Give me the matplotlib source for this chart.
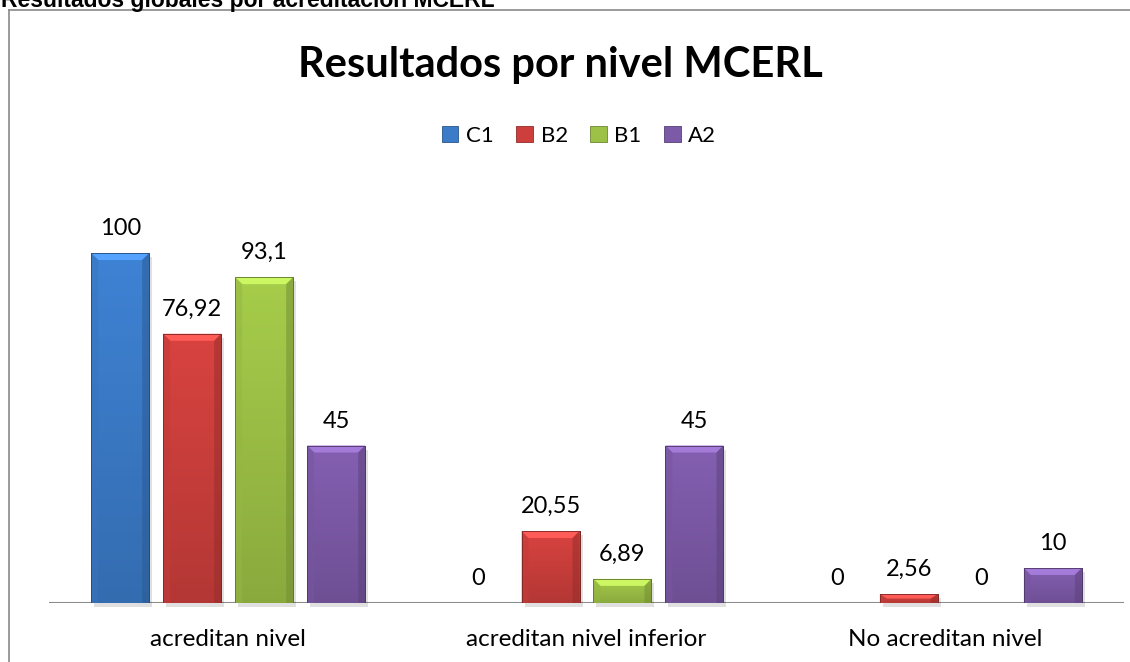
import numpy as np
import matplotlib
matplotlib.use("Agg")
import matplotlib.pyplot as plt
from matplotlib.patches import Polygon, Rectangle
from matplotlib.lines import Line2D
import matplotlib.colors as mcolors

categories = ["acreditan nivel", "acreditan nivel inferior", "No acreditan nivel"]
series = ["C1", "B2", "B1", "A2"]
values_C1 = [100, 0, 0]
values_B2 = [76.92, 20.55, 2.56]
values_B1 = [93.1, 6.89, 0]
values_A2 = [45, 45, 10]
labels_C1 = ["100", "0", "0"]
labels_B2 = ["76,92", "20,55", "2,56"]
labels_B1 = ["93,1", "6,89", "0"]
labels_A2 = ["45", "45", "10"]
colors = ["#3B7BC8", "#CC3F3C", "#9DC146", "#7D5AA8"]

W, H = 1130, 662
fig = plt.figure(figsize=(W / 100, H / 100), dpi=100)
fig.patch.set_facecolor("white")

FONT = ["Lato", "DejaVu Sans"]

# outer frame of the chart object
fig.add_artist(Line2D([8.5 / W, 8.5 / W], [0, 1 - 9.5 / H], color="#8a8a8a", lw=1.2))
fig.add_artist(Line2D([8.5 / W, 1], [1 - 9.5 / H, 1 - 9.5 / H], color="#8a8a8a", lw=1.2))

# cut-off heading above chart
fig.text(1 / W, 1 - 7 / H, "Resultados globales por acreditación MCERL",
         fontsize=16.5, fontweight="bold", family=["Liberation Sans", "DejaVu Sans"],
         ha="left", va="baseline", color="black")

# axes placement
left, right = 49, 1124
bottom_px, top_px = 603, 200
ax = fig.add_axes([left / W, 1 - bottom_px / H, (right - left) / W, (bottom_px - top_px) / H])
ymax = (bottom_px - top_px) / 3.5
ax.set_ylim(0, ymax)
ax.set_xlim(-0.5, 2.5)
ax.axis("off")
ax.axhline(0, color="#8c8c8c", lw=1.5, zorder=1)

unit = (right - left) / 3.0
step = 72 / unit
bw = 58 / unit
x = np.arange(len(categories))

all_vals = [values_C1, values_B2, values_B1, values_A2]
all_labs = [labels_C1, labels_B2, labels_B1, labels_A2]

bev_x = 7 / unit
bev_y = 7 / 3.5

for i, (vals, labs, col) in enumerate(zip(all_vals, all_labs, colors)):
    pos = x + (i - 1.5) * step
    bars = ax.bar(pos, vals, width=bw, color=col, edgecolor=mcolors.to_hex(np.array(mcolors.to_rgb(col)) * 0.7),
                  lw=0.6, zorder=3)
    base = np.array(mcolors.to_rgb(col))
    for b, lab in zip(bars, labs):
        bx, bwid, bh = b.get_x(), b.get_width(), b.get_height()
        if bh > 0:
            # shadow
            ax.add_patch(Rectangle((bx + 3 / unit, -4 / 3.5), bwid, bh, color="#000000", alpha=0.12,
                                   zorder=2, lw=0, clip_on=False))
            # vertical gradient
            grad = np.linspace(0, 1, 64).reshape(-1, 1)
            light = np.clip(base * 1.06, 0, 1)
            dark = base * 0.88
            img = (dark[None, None, :] * (1 - grad[..., None]) + light[None, None, :] * grad[..., None])
            im = ax.imshow(img, extent=[bx, bx + bwid, 0, bh], origin="lower", aspect="auto", zorder=3.5)
            im.set_clip_path(b)
            dy = min(bev_y, bh / 2)
            dx = bev_x
            # top bevel lighter
            ax.add_patch(Polygon([[bx, bh], [bx + bwid, bh], [bx + bwid - dx, bh - dy], [bx + dx, bh - dy]],
                                 closed=True, color=np.clip(base * 1.2 + 0.06, 0, 1), lw=0, zorder=4))
            # left bevel
            ax.add_patch(Polygon([[bx, 0], [bx, bh], [bx + dx, bh - dy], [bx + dx, 0]],
                                 closed=True, color=np.clip(base * 0.95, 0, 1), lw=0, zorder=4, alpha=0.5))
            # right bevel darker
            ax.add_patch(Polygon([[bx + bwid, 0], [bx + bwid, bh], [bx + bwid - dx, bh - dy], [bx + bwid - dx, 0]],
                                 closed=True, color=base * 0.72, lw=0, zorder=4, alpha=0.5))
            ax.add_patch(Rectangle((bx, 0), bwid, bh, fill=False, ec=base * 0.6, lw=0.6, zorder=5))
        ax.text(bx + bwid / 2, bh + 18 / 3.5, lab, ha="center", va="baseline",
                fontsize=17, family=FONT, color="black", zorder=6)

for xi, cat in zip(x, categories):
    ax.text(xi, -37 / 3.5, cat, ha="center", va="center", fontsize=17.5, family=FONT,
            color="black", clip_on=False)

# title
fig.text(560 / W, 1 - 65 / H, "Resultados por nivel MCERL", ha="center", va="center",
         fontsize=30, fontweight="bold", family=FONT, color="black")

# legend
handles = [Rectangle((0, 0), 1, 1, facecolor=c, edgecolor=mcolors.to_hex(np.array(mcolors.to_rgb(c)) * 0.7), lw=0.6)
           for c in colors]
fig.legend(handles, series, loc="center", bbox_to_anchor=(579 / W, 1 - 136 / H), ncol=4,
           frameon=False, prop={"family": FONT, "size": 16}, handlelength=0.75, handleheight=0.75,
           handletextpad=0.35, columnspacing=1.0)

fig.savefig("out.png", dpi=100, facecolor="white")
